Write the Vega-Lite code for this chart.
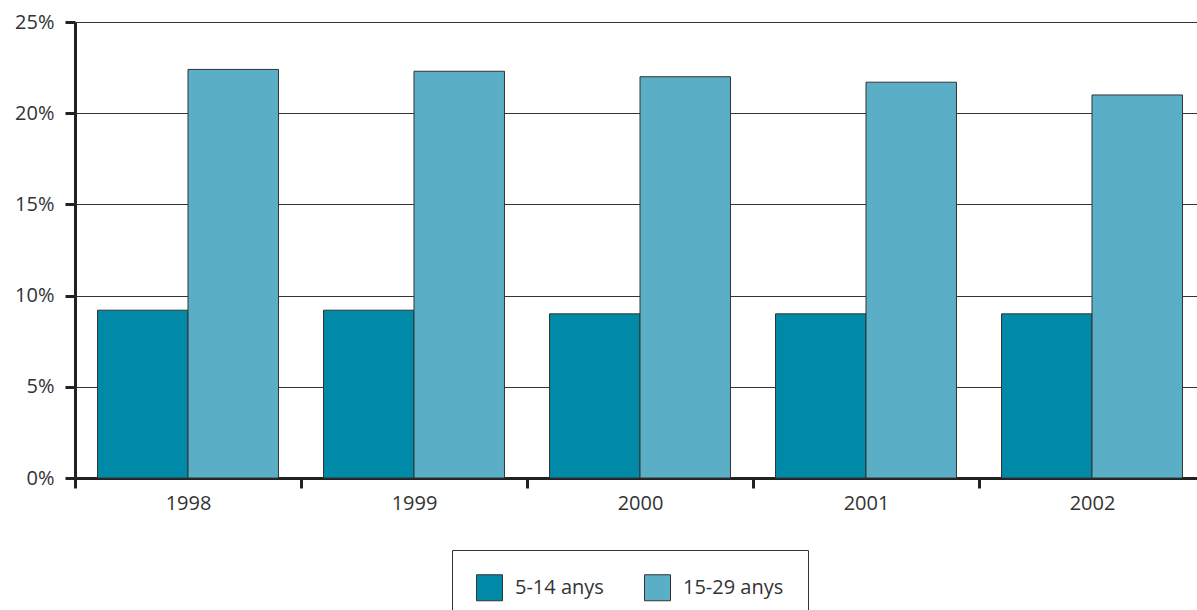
{
  "$schema": "https://vega.github.io/schema/vega-lite/v6.json",
  "width": 1130,
  "height": 456,
  "autosize": {"type": "none"},
  "padding": {"left": 75, "top": 22, "right": 0, "bottom": 132},
  "background": "white",
  "data": {
    "values": [
      {"year": "1998", "group": "5-14 anys", "value": 0.092},
      {"year": "1998", "group": "15-29 anys", "value": 0.224},
      {"year": "1999", "group": "5-14 anys", "value": 0.092},
      {"year": "1999", "group": "15-29 anys", "value": 0.223},
      {"year": "2000", "group": "5-14 anys", "value": 0.090},
      {"year": "2000", "group": "15-29 anys", "value": 0.220},
      {"year": "2001", "group": "5-14 anys", "value": 0.090},
      {"year": "2001", "group": "15-29 anys", "value": 0.217},
      {"year": "2002", "group": "5-14 anys", "value": 0.090},
      {"year": "2002", "group": "15-29 anys", "value": 0.210}
    ]
  },
  "mark": {"type": "bar", "stroke": "#333333", "strokeWidth": 1},
  "encoding": {
    "x": {
      "field": "year", "type": "nominal", "title": null,
      "scale": {"paddingInner": 0, "paddingOuter": 0},
      "axis": {
        "labelAngle": 0, "tickBand": "extent", "domainColor": "#222222", "domainWidth": 3,
        "tickColor": "#222222", "tickWidth": 3, "tickSize": 10, "labelPadding": 5,
        "labelFont": "Open Sans", "labelFontSize": 20, "labelColor": "#333333", "grid": false
      }
    },
    "xOffset": {
      "field": "group", "type": "nominal",
      "sort": ["5-14 anys", "15-29 anys"],
      "scale": {"paddingInner": 0, "paddingOuter": 0.249}
    },
    "y": {
      "field": "value", "type": "quantitative", "title": null,
      "scale": {"domain": [0, 0.25], "nice": false},
      "axis": {
        "values": [0, 0.05, 0.1, 0.15, 0.2, 0.25], "format": ".0%",
        "domainColor": "#222222", "domainWidth": 3, "tickColor": "#222222", "tickWidth": 3,
        "tickSize": 10, "labelPadding": 11, "labelFont": "Open Sans", "labelFontSize": 20,
        "labelColor": "#333333", "grid": true, "gridColor": "#333333", "gridWidth": 1
      }
    },
    "color": {
      "field": "group", "type": "nominal",
      "sort": ["5-14 anys", "15-29 anys"],
      "scale": {"domain": ["5-14 anys", "15-29 anys"], "range": ["#008AA7", "#5AAFC6"]},
      "legend": {
        "title": null, "orient": "none", "legendX": 377, "legendY": 528,
        "direction": "horizontal", "symbolType": "square", "symbolSize": 676,
        "symbolStrokeColor": "#333333", "symbolStrokeWidth": 1, "symbolOpacity": 1,
        "labelFont": "Open Sans", "labelFontSize": 20, "labelColor": "#333333",
        "labelOffset": 12, "columnPadding": 38, "padding": 24,
        "strokeColor": "#333333", "fillColor": "white"
      }
    }
  },
  "config": {"view": {"stroke": null}}
}
